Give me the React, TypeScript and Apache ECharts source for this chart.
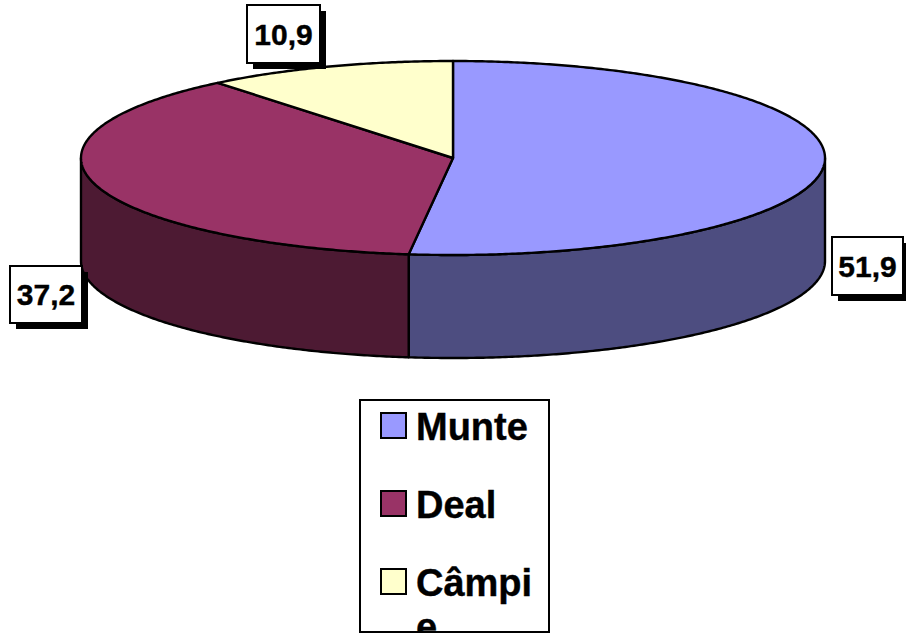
import React, { useEffect, useRef } from "react";
import * as echarts from "echarts";

const categories = ["Munte", "Deal", "Câmpie"];
const values = [51.9, 37.2, 10.9];
const topColors = ["#9999FF", "#993366", "#FFFFCC"];
const sideColors = ["#4D4D80", "#4D1A33", "#808066"];
const valueLabels = ["51,9", "37,2", "10,9"];

const CX = 453;
const CY = 158;
const RX = 372;
const RY = 97;
const DEPTH = 103;
const FONT = '"Liberation Sans", Arial, sans-serif';

const labelBoxes = [
  { x: 832, y: 237, w: 71, h: 58 },
  { x: 10, y: 266, w: 72, h: 57 },
  { x: 247, y: 5, w: 73, h: 58 },
];
const legendRows = [413, 491, 569];

const total = values.reduce((a, b) => a + b, 0);
const startAngle = (i: number) =>
  (values.slice(0, i).reduce((a, b) => a + b, 0) / total) * 360;
const pt = (deg: number, dy = 0): [number, number] => {
  const r = (deg * Math.PI) / 180;
  return [CX + RX * Math.sin(r), CY - RY * Math.cos(r) + dy];
};
const arc = (a0: number, a1: number, dy = 0) => {
  const out: [number, number][] = [];
  const n = Math.max(2, Math.ceil((a1 - a0) * 2));
  for (let k = 0; k <= n; k++) out.push(pt(a0 + ((a1 - a0) * k) / n, dy));
  return out;
};
const edge = { stroke: "#000", lineWidth: 2.4, lineJoin: "round" as const };

const renderTop = (params: any, api: any) => {
  const i = params.dataIndex;
  const a0 = startAngle(i);
  const a1 = a0 + (api.value(0) / total) * 360;
  return {
    type: "polygon",
    shape: { points: [[CX, CY], ...arc(a0, a1)] },
    style: { fill: topColors[i], ...edge },
  };
};

const renderSide = (params: any, api: any) => {
  const i = params.dataIndex;
  const a0 = Math.max(startAngle(i), 90);
  const a1 = Math.min(startAngle(i) + (api.value(0) / total) * 360, 270);
  if (a1 <= a0) return { type: "group", children: [] };
  return {
    type: "polygon",
    shape: { points: [...arc(a0, a1), ...arc(a0, a1, DEPTH).reverse()] },
    style: { fill: sideColors[i], ...edge },
  };
};

const seriesData = categories.map((name, i) => ({ name, value: values[i] }));

export default function App() {
  const ref = useRef<HTMLDivElement>(null);
  useEffect(() => {
    document.body.style.margin = "0";
    const chart = echarts.init(ref.current!, undefined, { renderer: "svg" });
    const graphic: any[] = [];
    labelBoxes.forEach((b, i) => {
      graphic.push(
        { type: "rect", z: 10, shape: { x: b.x + 6, y: b.y + 6, width: b.w, height: b.h }, style: { fill: "#000" } },
        { type: "rect", z: 11, shape: { x: b.x, y: b.y, width: b.w, height: b.h }, style: { fill: "#fff", stroke: "#000", lineWidth: 2 } },
        {
          type: "text", z: 12, x: b.x + b.w / 2, y: b.y + b.h / 2,
          style: { text: valueLabels[i], font: `bold 30px ${FONT}`, fill: "#000", stroke: "#000", lineWidth: 0.4, align: "center", verticalAlign: "middle" },
        }
      );
    });
    graphic.push({
      type: "rect", z: 10, shape: { x: 360, y: 400, width: 189, height: 232 },
      style: { fill: "#fff", stroke: "#000", lineWidth: 2 },
    });
    categories.forEach((c, i) => {
      graphic.push(
        { type: "rect", z: 11, shape: { x: 381, y: legendRows[i], width: 25, height: 25 }, style: { fill: topColors[i], stroke: "#000", lineWidth: 2 } },
        {
          type: "text", z: 11, x: 416, y: legendRows[i] - 8,
          style: {
            text: c, font: `bold 38px ${FONT}`, fill: "#000", stroke: "#000", lineWidth: 0.4, align: "left", verticalAlign: "top",
            width: 133, overflow: "breakAll", lineHeight: 44,
          },
        }
      );
    });
    graphic.push(
      { type: "rect", z: 12, shape: { x: 350, y: 633, width: 210, height: 4 }, style: { fill: "#fff" } },
      { type: "line", z: 13, shape: { x1: 359, y1: 632, x2: 550, y2: 632 }, style: { stroke: "#000", lineWidth: 2 } },
      { type: "line", z: 13, shape: { x1: 360, y1: 400, x2: 360, y2: 632 }, style: { stroke: "#000", lineWidth: 2 } },
      { type: "line", z: 13, shape: { x1: 549, y1: 400, x2: 549, y2: 632 }, style: { stroke: "#000", lineWidth: 2 } }
    );
    chart.setOption({
      animation: false,
      backgroundColor: "#fff",
      series: [
        { type: "custom", coordinateSystem: "none", silent: true, z: 2, renderItem: renderSide, data: seriesData },
        { type: "custom", coordinateSystem: "none", silent: true, z: 3, renderItem: renderTop, data: seriesData },
      ],
      graphic,
    });
    return () => chart.dispose();
  }, []);
  return <div ref={ref} style={{ width: 906, height: 635 }} />;
}
